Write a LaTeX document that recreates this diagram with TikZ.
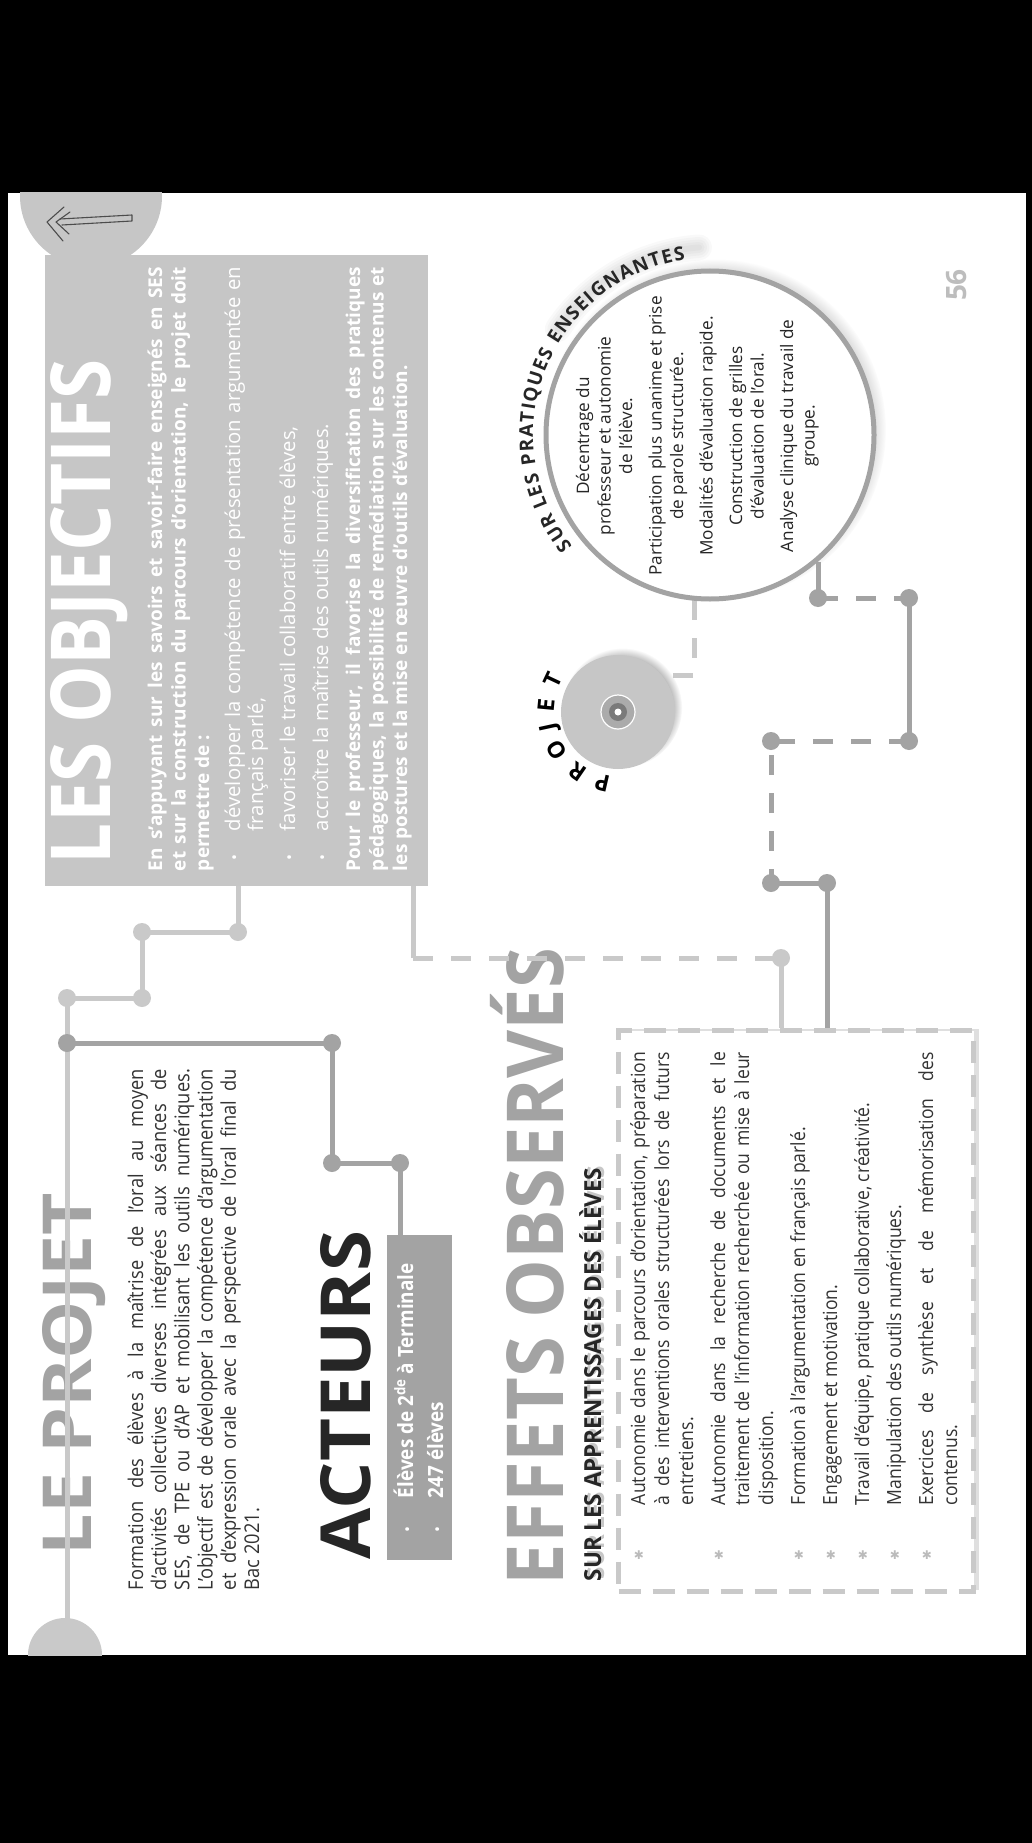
\documentclass[tikz,border=0pt]{standalone}
\usepackage{fontspec}
\usepackage{graphicx}
\setmainfont{Open Sans}
\newfontfamily\cond[FakeStretch=0.9]{Open Sans}
\newfontfamily\condb[FakeStretch=0.9]{Open Sans}
\newfontfamily\dejavu{DejaVu Sans}
\usetikzlibrary{decorations.text,shadows}
\definecolor{boxg}{HTML}{C6C6C6}
\definecolor{lineg}{HTML}{C9C9C9}
\definecolor{midg}{HTML}{A3A3A3}
\definecolor{txt}{HTML}{333333}
\definecolor{dark}{HTML}{262626}
\definecolor{pgnum}{HTML}{BDBDBD}
\definecolor{starg}{HTML}{BBBBBB}
\newcommand\JL[1]{\makebox[\hsize][s]{#1}\par}
\newcommand\LL[1]{\makebox[\hsize][l]{#1}\par}
\newcommand\CL[1]{\makebox[\hsize][c]{#1}\par}
\begin{document}
\begin{tikzpicture}[x=1pt,y=-1pt,
  rot/.style={rotate=90,anchor=base west,inner sep=0pt,outer sep=0pt},
  lline/.style={draw=lineg,line width=5pt},
  dline/.style={draw=midg,line width=5pt},
  dsh/.style={dash pattern=on 20pt off 18pt},
  ldot/.style={circle,fill=lineg,minimum size=18pt,inner sep=0pt},
  ddot/.style={circle,fill=midg,minimum size=18pt,inner sep=0pt},
  icon/.style={draw=black!70,line width=1.1pt,line cap=round,line join=round},
  starb/.style={text=starg,font=\dejavu\fontsize{12}{12}\selectfont,inner sep=0pt},
  arcsh/.style={black,opacity=0.022,line cap=round}]
% page
\fill[black] (0,0) rectangle (1032,1843);
\useasboundingbox (0,0) rectangle (1032,1843);
\fill[white] (8,193) rectangle (1026,1655);

% ---------- LES OBJECTIFS ----------
\node[fill=boxg,inner sep=0pt,minimum width=383pt,minimum height=631pt,anchor=north west] (objbox) at (45,255) {};
\begin{scope}
\clip (8,193) rectangle (1026,1655);
\fill[boxg] (91,196) circle[radius=71];
\fill[lineg] (65,1655) circle[radius=37];
\end{scope}
% back-arrow icon
\draw[icon] (64,207) -- (47,222) -- (63,241);
\draw[icon] (70,212) -- (56,222) -- (69,234);
\draw[icon] (60,219) -- (132,215) -- (132,221) -- (62,225);

\node[rot,text=white] (objt) at (110,864) {\resizebox{505pt}{60pt}{\bfseries LES OBJECTIFS}};
\node[rot,text=white,font=\bfseries\fontsize{19}{23.5}\selectfont] (objp1) at (162,871)
 {\vtop{\hsize=604pt\parindent=0pt
 \JL{En s’appuyant sur les savoirs et savoir-faire enseignés en SES}
 \JL{et sur la construction du parcours d’orientation, le projet doit}
 \LL{permettre de :}}};
\node[rot,text=white,font=\fontsize{20.3}{23}\selectfont] (objp2) at (240,831)
 {\vtop{\hsize=564pt\parindent=0pt
 \JL{développer la compétence de présentation argumentée en}
 \LL{français parlé,}\vskip9pt
 \LL{favoriser le travail collaboratif entre élèves,}\vskip10pt
 \LL{accroître la maîtrise des outils numériques.}}};
\foreach \i/\bx in {1/240,2/295,3/328}
  \node[rot,text=white,font=\fontsize{16}{16}\selectfont] (ob\i) at (\bx,860) {•};
\node[rot,text=white,font=\bfseries\fontsize{19}{23.5}\selectfont] (objp3) at (360,871)
 {\vtop{\hsize=604pt\parindent=0pt
 \JL{Pour le professeur, il favorise la diversification des pratiques}
 \JL{pédagogiques, la possibilité de remédiation sur les contenus et}
 \LL{les postures et la mise en œuvre d’outils d’évaluation.}}};

% ---------- LE PROJET ----------
\node[rot,text=midg] (projt) at (91,1555) {\resizebox{362pt}{49pt}{\bfseries LE PROJET}};
\node[rot,text=txt,font=\cond\fontsize{20.3}{23.2}\selectfont] (projp) at (143,1590)
 {\vtop{\hsize=521pt\parindent=0pt
 \JL{Formation des élèves à la maîtrise de l’oral au moyen}
 \JL{d’activités collectives diverses intégrées aux séances de}
 \JL{SES, de TPE ou d’AP et mobilisant les outils numériques.}
 \JL{L’objectif est de développer la compétence d’argumentation}
 \JL{et d’expression orale avec la perspective de l’oral final du}
 \LL{Bac 2021.}}};

% ---------- ACTEURS ----------
\node[rot,text=dark] (actt) at (370,1559) {\resizebox{328pt}{50pt}{\bfseries ACTEURS}};
\node[fill=midg,inner sep=0pt,minimum width=65pt,minimum height=325pt,anchor=north west] (actbox) at (387,1235) {};
\node[rot,text=white,font=\condb\bfseries\fontsize{21}{30}\selectfont] (actp) at (413,1498)
 {\vtop{\hsize=250pt\parindent=0pt
 \LL{Élèves de 2\textsuperscript{de} à Terminale}
 \LL{247 élèves}}};
\node[rot,text=white,font=\fontsize{16}{16}\selectfont] (ab1) at (413,1532) {•};
\node[rot,text=white,font=\fontsize{16}{16}\selectfont] (ab2) at (443,1532) {•};

% ---------- EFFETS OBSERVES ----------
\node[rot,text=midg] (efft) at (563,1585) {\resizebox{637pt}{57pt}{\bfseries EFFETS OBSERV\smash{É}S}};
\node[rot,text=black!22] (efsubsh) at (604,1579) {\resizebox{413pt}{17pt}{\bfseries SUR LES APPRENTISSAGES DES \smash{É}L\smash{È}VES}};
\node[rot,text=dark] (efsub) at (601,1581) {\resizebox{413pt}{17pt}{\bfseries SUR LES APPRENTISSAGES DES \smash{É}L\smash{È}VES}};
\node[draw=lineg,line width=5pt,dash pattern=on 22pt off 12pt,fill=white,inner sep=0pt,
  minimum width=355pt,minimum height=561pt,anchor=north west,
  drop shadow={shadow xshift=5pt,shadow yshift=2pt,opacity=0.25}] (effbox) at (616,1028) {};
\node[rot,text=txt,font=\cond\fontsize{19.5}{24}\selectfont] (effp) at (645,1505)
 {\vtop{\hsize=453pt\parindent=0pt
 \JL{Autonomie dans le parcours d’orientation, préparation}
 \JL{à des interventions orales structurées lors de futurs}
 \LL{entretiens.}\vskip8pt
 \JL{Autonomie dans la recherche de documents et le}
 \JL{traitement de l’information recherchée ou mise à leur}
 \LL{disposition.}\vskip8pt
 \LL{Formation à l’argumentation en français parlé.}\vskip8pt
 \LL{Engagement et motivation.}\vskip8pt
 \LL{Travail d’équipe, pratique collaborative, créativité.}\vskip8pt
 \LL{Manipulation des outils numériques.}\vskip8pt
 \JL{Exercices de synthèse et de mémorisation des}
 \LL{contenus.}}};
\foreach \i/\sx in {1/639,2/719,3/799,4/831,5/863,6/895,7/927}
  \node[starb] (st\i) at (\sx,1555) {✱};

% ---------- connectors (under circle / disc) ----------
\coordinate (discc) at (618,712);
\coordinate (c1) at (694,600);
\coordinate (c2) at (694,675);
\draw[lline,dsh] (c1) -- (c2) -- (discc |- c2);

% ---------- circle SUR LES PRATIQUES ENSEIGNANTES ----------
\foreach \w in {6,11,16,21,26}
  \draw[arcsh,line width=\w pt] plot[domain=214:266,samples=40,variable=\t] ({712+186*cos(\t)},{433+186*sin(\t)});
\node[circle,draw=midg,line width=5pt,fill=white,minimum size=328pt,inner sep=0pt,
  circular drop shadow={shadow xshift=5pt,shadow yshift=5pt,shadow scale=1.04,opacity=0.55}] (circ) at (710,435) {};
\path[decorate,decoration={text along path,text align={fit to path},text color=dark,
  text={|\bfseries\fontsize{19}{19}\selectfont|SUR LES PRATIQUES ENSEIGNANTES}}]
  plot[domain=141:262,samples=90,variable=\t] ({710+177*cos(\t)},{435+177*sin(\t)});
\node[rot,text=dark,font=\fontsize{17.2}{21.5}\selectfont] (circp) at (589,586)
 {\vtop{\hsize=300pt\parindent=0pt
 \CL{Décentrage du}
 \CL{professeur et autonomie}
 \CL{de l’élève.}\vskip8pt
 \CL{Participation plus unanime et prise}
 \CL{de parole structurée.}\vskip8pt
 \CL{Modalités d’évaluation rapide.}\vskip8pt
 \CL{Construction de grilles}
 \CL{d’évaluation de l’oral.}\vskip8pt
 \CL{Analyse clinique du travail de}
 \CL{groupe.}}};

% ---------- PROJET disc ----------
\node[circle,fill=boxg,minimum size=114pt,inner sep=0pt,
  circular drop shadow={shadow xshift=4pt,shadow yshift=4pt,shadow scale=1.05,opacity=0.5}] (disc) at (discc) {};
\node[circle,fill=black!33,draw=white,line width=1.2pt,minimum size=34pt,inner sep=0pt] (disc2) at (disc.center) {};
\node[circle,fill=black!52,minimum size=18pt,inner sep=0pt] (disc3) at (disc.center) {};
\node[circle,fill=white,minimum size=7pt,inner sep=0pt] (disc4) at (disc.center) {};
\path[decorate,decoration={text along path,text align={fit to path},text color=black,
  text={|\bfseries\fontsize{23}{23}\selectfont|PROJET}}]
  plot[domain=96:212,samples=60,variable=\t] ({618+64*cos(\t)},{712+64*sin(\t)});

% page number
\node[rot,text=pgnum,font=\bfseries\fontsize{28}{28}\selectfont] (pg) at (966,301) {56};

% ---------- connectors ----------
% light: objectifs -> le projet
\coordinate (o1) at (238,886);
\node[ldot] (l1) at (238,932) {};
\node[ldot] (l2) at (142,932) {};
\node[ldot] (l3) at (142,998) {};
\node[ldot] (l4) at (67,998) {};
\coordinate (lend) at (67,1655);
\draw[lline] (o1) -- (l1.center) -- (l2.center) -- (l3.center) -- (l4.center) -- (lend);
% light: objectifs -> effets
\coordinate (o2) at (413,886);
\coordinate (l5) at (413,958);
\node[ldot] (l6) at (781,958) {};
\draw[lline] (o2) -- (l5);
\draw[lline,dsh] (l5) -- (l6.center);
\draw[lline] (l6.center) -- (l6 |- effbox.north);
% dark: le projet -> acteurs
\node[ddot] (d0) at (67,1043) {};
\node[ddot] (d1) at (332,1043) {};
\node[ddot] (d2) at (332,1163) {};
\node[ddot] (d3) at (400,1163) {};
\draw[dline] (d0.center) -- (d1.center) -- (d2.center) -- (d3.center) -- (d3 |- actbox.north);
% dark: circle -> effets
\coordinate (e0) at (818,562);
\node[ddot] (e1) at (818,598) {};
\node[ddot] (e2) at (909,598) {};
\node[ddot] (e3) at (909,741) {};
\node[ddot] (e4) at (771,741) {};
\node[ddot] (e5) at (771,883) {};
\node[ddot] (e6) at (827,883) {};
\draw[dline] (e0) -- (e1.center);
\draw[dline,dsh] (e1.center) -- (e2.center);
\draw[dline] (e2.center) -- (e3.center);
\draw[dline,dsh] (e3.center) -- (e4.center) -- (e5.center);
\draw[dline] (e5.center) -- (e6.center) -- (e6 |- effbox.north);
\end{tikzpicture}
\end{document}
